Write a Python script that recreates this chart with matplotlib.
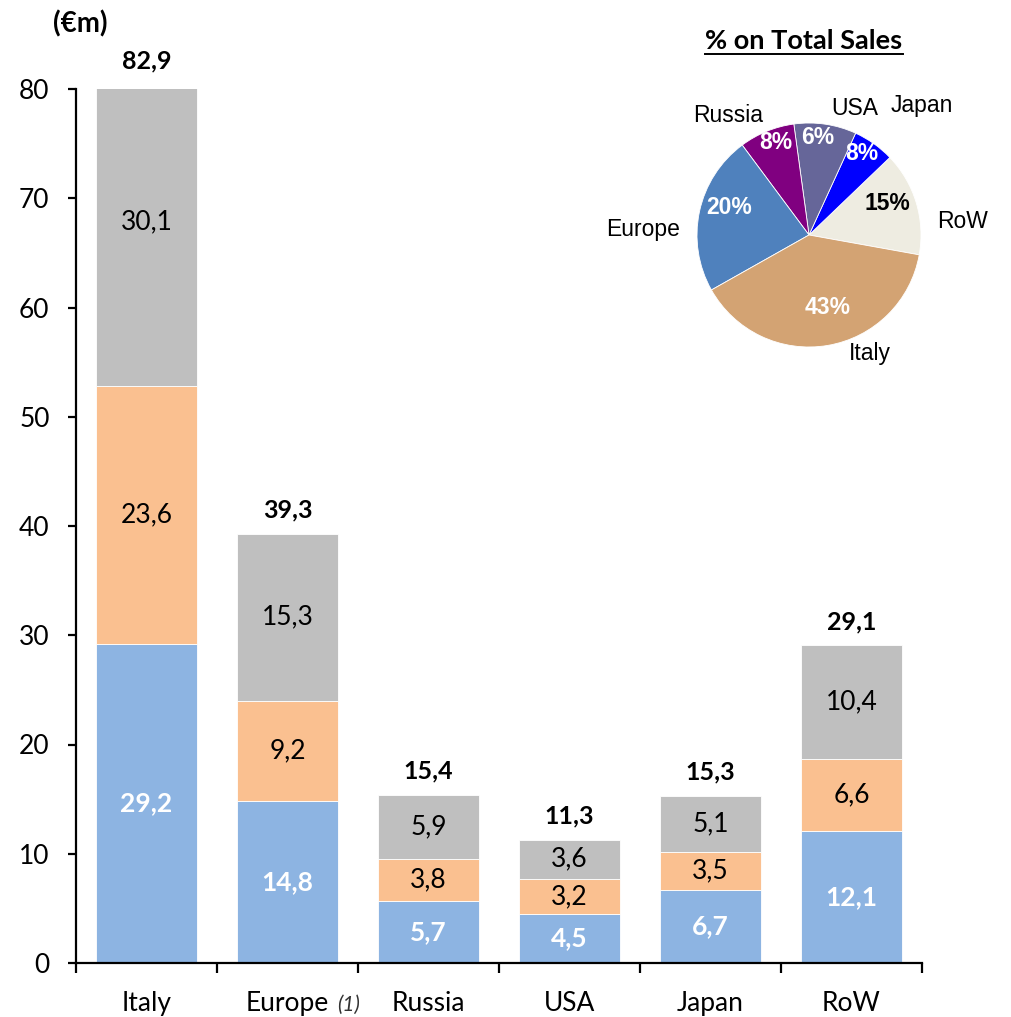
import numpy as np
import matplotlib.pyplot as plt
from matplotlib.lines import Line2D

# data
categories = ['Italy', 'Europe', 'Russia', 'USA', 'Japan', 'RoW']
seg_blue = [29.2, 14.8, 5.7, 4.5, 6.7, 12.1]
seg_orange = [23.6, 9.2, 3.8, 3.2, 3.5, 6.6]
seg_grey = [30.1, 15.3, 5.9, 3.6, 5.1, 10.4]
totals = [82.9, 39.3, 15.4, 11.3, 15.3, 29.1]

# pie (counter-clockwise from the RoW/Italy boundary)
pie_names = ['RoW', 'Japan', 'USA', 'Russia', 'Europe', 'Italy']
pie_share = [15, 6, 9, 8, 23, 39]          # slice sizes as drawn
pie_text = ['15%', '8%', '6%', '8%', '20%', '43%']  # printed labels
pie_colors = ['#EEECE1', '#0000FF', '#666699', '#800080', '#4F81BD', '#D3A373']
pct_colors = ['black', 'white', 'white', 'white', 'white', 'white']
# label placement (angle deg, radius in pie units)
name_pos = [(5, 1.38), (49, 1.53), (70, 1.20), (124, 1.29), (178, 1.48), (-63, 1.19)]
pct_pos = [(22, 0.75), (57, 0.87), (85, 0.87), (110, 0.875), (161, 0.75), (-76, 0.67)]

bar_font = 'Lato'
pie_font = 'Liberation Sans'

def fmt(v):
    return f'{v:.1f}'.replace('.', ',')

W, H = 1011, 1017
fig = plt.figure(figsize=(W / 100, H / 100), dpi=100)
ax = fig.add_axes([76 / W, 1 - 963 / H, 846 / W, 874 / H])

x = np.arange(len(categories))
bw = 0.72
ax.bar(x, seg_blue, bw, color='#8DB4E2', edgecolor='white', linewidth=0.6)
ax.bar(x, seg_orange, bw, bottom=seg_blue, color='#FAC090',
       edgecolor='white', linewidth=0.6)
bot3 = np.array(seg_blue) + np.array(seg_orange)
ax.bar(x, seg_grey, bw, bottom=bot3, color='#BFBFBF',
       edgecolor='white', linewidth=0.6)

ax.set_xlim(-0.5, len(categories) - 0.5)
ax.set_ylim(0, 80)

# segment labels
for i in range(len(categories)):
    ax.text(x[i], seg_blue[i] / 2, fmt(seg_blue[i]), ha='center', va='center',
            color='white', fontsize=19, fontweight='bold', family=bar_font)
    ax.text(x[i], seg_blue[i] + seg_orange[i] / 2, fmt(seg_orange[i]), ha='center',
            va='center', color='black', fontsize=19, family=bar_font)
    ax.text(x[i], bot3[i] + seg_grey[i] / 2, fmt(seg_grey[i]), ha='center',
            va='center', color='black', fontsize=19, family=bar_font)
    top = min(totals[i], 80)
    ax.annotate(fmt(totals[i]), (x[i], top), xytext=(0, 17 if totals[i] < 80 else 20),
                textcoords='offset points', ha='center', va='center',
                fontsize=18, fontweight='bold', family=bar_font,
                annotation_clip=False)

# axes styling
for s in ['top', 'right']:
    ax.spines[s].set_visible(False)
for s in ['left', 'bottom']:
    ax.spines[s].set_linewidth(1.6)
ax.set_yticks(range(0, 81, 10))
ax.tick_params(axis='y', direction='out', length=6, width=1.6, pad=13,
               labelsize=19)
ax.set_xticks(x)
ax.set_xticklabels(categories)
ax.set_xticks(np.arange(-0.5, len(categories), 1), minor=True)
ax.tick_params(axis='x', which='major', length=0, pad=20, labelsize=19)
ax.tick_params(axis='x', which='minor', direction='out', length=7, width=1.6)
for lab in ax.get_xticklabels() + ax.get_yticklabels():
    lab.set_family(bar_font)

eu = ax.get_xticklabels()[1]
ax.annotate('(1)', xy=(1, 0), xycoords=eu, xytext=(6, 1), textcoords='offset points',
            ha='left', va='bottom', fontsize=15, style='italic', color='#333333',
            family=bar_font)

fig.text(80 / W, 1 - 24 / H, '(€m)', ha='center', va='center', fontsize=20,
         fontweight='bold', family=bar_font)

# pie inset
R = 112
half = 200
cx, cy = 809, 235
pax = fig.add_axes([(cx - half) / W, 1 - (cy + half) / H, 2 * half / W, 2 * half / H])
wedges, _ = pax.pie(pie_share, colors=pie_colors, startangle=-10.2, counterclock=True,
                    wedgeprops=dict(edgecolor='white', linewidth=0.6))
pax.set_xlim(-half / R, half / R)
pax.set_ylim(-half / R, half / R)
pax.set_aspect('equal')
pax.axis('off')

for name, (a, r) in zip(pie_names, name_pos):
    t = np.deg2rad(a)
    pax.text(r * np.cos(t), r * np.sin(t), name, ha='center', va='center',
             fontsize=16.5, family=pie_font)
for lab, c, (a, r) in zip(pie_text, pct_colors, pct_pos):
    t = np.deg2rad(a)
    pax.text(r * np.cos(t), r * np.sin(t), lab, ha='center', va='center',
             fontsize=16.5, fontweight='bold', color=c, family=pie_font)

title = fig.text(804 / W, 1 - 41 / H, '% on Total Sales', ha='center', va='center',
                 fontsize=19.5, fontweight='bold', family=bar_font)
fig.canvas.draw()
bb = title.get_window_extent()
yline = (bb.y0 - 1) / H
fig.add_artist(Line2D([bb.x0 / W, bb.x1 / W], [yline, yline], color='black',
                      linewidth=1.4, transform=fig.transFigure))

fig.savefig('out.png', dpi=100)
